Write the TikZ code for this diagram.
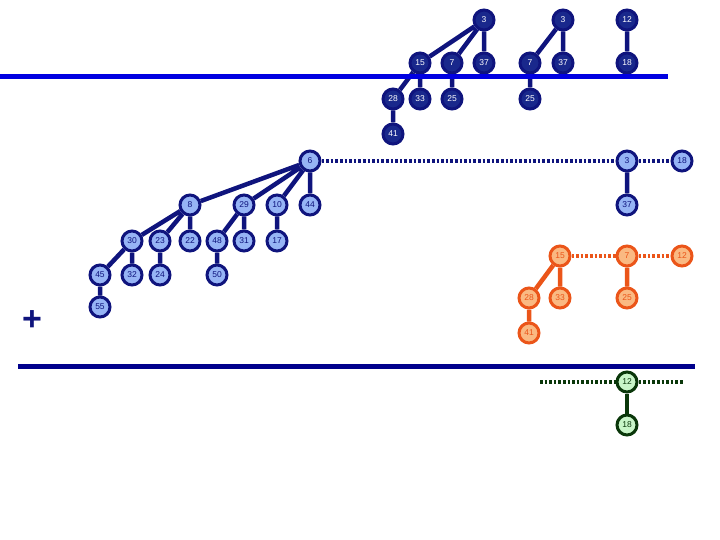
\documentclass[tikz,border=0pt]{standalone}
\usepackage{fontspec}
\setmainfont{Liberation Sans}
\definecolor{navy}{RGB}{15,20,125}
\definecolor{topfill}{RGB}{25,40,140}
\definecolor{brightblue}{RGB}{0,0,225}
\definecolor{midfill}{RGB}{150,180,245}
\definecolor{orbord}{RGB}{235,85,25}
\definecolor{orfill}{RGB}{250,185,130}
\definecolor{grbord}{RGB}{10,55,10}
\definecolor{grfill}{RGB}{200,245,200}
\definecolor{botline}{RGB}{0,0,140}
\tikzset{
  base/.style={circle,minimum size=20pt,inner sep=0pt,line width=3pt,font=\fontsize{8.5}{9}\selectfont},
  tn/.style={base,draw=navy,fill=topfill,text=white},
  mn/.style={base,draw=navy,fill=midfill,text=navy},
  on/.style={base,draw=orbord,fill=orfill,text=orbord},
  gn/.style={base,draw=grbord,fill=grfill,text=grbord},
  tl/.style={draw=navy,line width=4.5pt},
  ol/.style={draw=orbord,line width=4.5pt},
  gl/.style={draw=grbord,line width=4.5pt},
  dotl/.style={line width=3.2pt,dash pattern=on 2.6pt off 2pt},
}
\begin{document}
\begin{tikzpicture}[x=1pt,y=-1pt]
\useasboundingbox (0,0) rectangle (720,540);
% top
\node[tn] (a3) at (484,20) {3};
\node[tn] (b3) at (563,20) {3};
\node[tn] (c12) at (627,20) {12};
\node[tn] (a15) at (420,63) {15};
\node[tn] (a7) at (452,63) {7};
\node[tn] (a37) at (484,63) {37};
\node[tn] (b7) at (530,63) {7};
\node[tn] (b37) at (563,63) {37};
\node[tn] (c18) at (627,63) {18};
\node[tn] (a28) at (393,99) {28};
\node[tn] (a33) at (420,99) {33};
\node[tn] (a25) at (452,99) {25};
\node[tn] (b25) at (530,99) {25};
\node[tn] (a41) at (393,134) {41};
\draw[tl] (a3)--(a15) (a3)--(a7) (a3)--(a37) (a15)--(a28) (a15)--(a33) (a7)--(a25) (a28)--(a41)
  (b3)--(b7) (b3)--(b37) (b7)--(b25) (c12)--(c18);
\coordinate (lL) at (0,77);
\coordinate (lR) at (668,77);
\draw[brightblue,line width=5pt] (lL)--(lR);
% middle tree
\node[mn] (m6) at (310,161) {6};
\node[mn] (m8) at (190,205) {8};
\node[mn] (m29) at (244,205) {29};
\node[mn] (m10) at (277,205) {10};
\node[mn] (m44) at (310,205) {44};
\node[mn] (m30) at (132,241) {30};
\node[mn] (m23) at (160,241) {23};
\node[mn] (m22) at (190,241) {22};
\node[mn] (m48) at (217,241) {48};
\node[mn] (m31) at (244,241) {31};
\node[mn] (m17) at (277,241) {17};
\node[mn] (m45) at (100,275) {45};
\node[mn] (m32) at (132,275) {32};
\node[mn] (m24) at (160,275) {24};
\node[mn] (m50) at (217,275) {50};
\node[mn] (m55) at (100,307) {55};
\node[mn] (n3) at (627,161) {3};
\node[mn] (n18) at (682,161) {18};
\node[mn] (n37) at (627,205) {37};
\draw[tl] (m6)--(m8) (m6)--(m29) (m6)--(m10) (m6)--(m44)
  (m8)--(m30) (m8)--(m23) (m8)--(m22) (m29)--(m48) (m29)--(m31) (m10)--(m17)
  (m30)--(m45) (m30)--(m32) (m23)--(m24) (m48)--(m50) (m45)--(m55) (n3)--(n37);
\draw[navy,dotl] (m6)--(n3) (n3)--(n18);
% orange
\node[on] (o15) at (560,256) {15};
\node[on] (o7) at (627,256) {7};
\node[on] (o12) at (682,256) {12};
\node[on] (o28) at (529,298) {28};
\node[on] (o33) at (560,298) {33};
\node[on] (o25) at (627,298) {25};
\node[on] (o41) at (529,333) {41};
\draw[ol] (o15)--(o28) (o15)--(o33) (o28)--(o41) (o7)--(o25);
\draw[orbord,dotl] (o15)--(o7) (o7)--(o12);
% plus
\node[text=navy,font=\fontsize{34}{34}\selectfont\bfseries] (plus) at (32,321) {+};
% bottom line
\coordinate (bL) at (18,366);
\coordinate (bR) at (695,366);
\draw[botline,line width=5pt] (bL)--(bR);
% green
\node[gn] (g12) at (627,382) {12};
\node[gn] (g18) at (627,425) {18};
\coordinate (gL) at (540,382);
\coordinate (gR) at (684,382);
\draw[gl] (g12)--(g18);
\draw[grbord,dotl] (gL)--(g12) (g12)--(gR);
\end{tikzpicture}
\end{document}
